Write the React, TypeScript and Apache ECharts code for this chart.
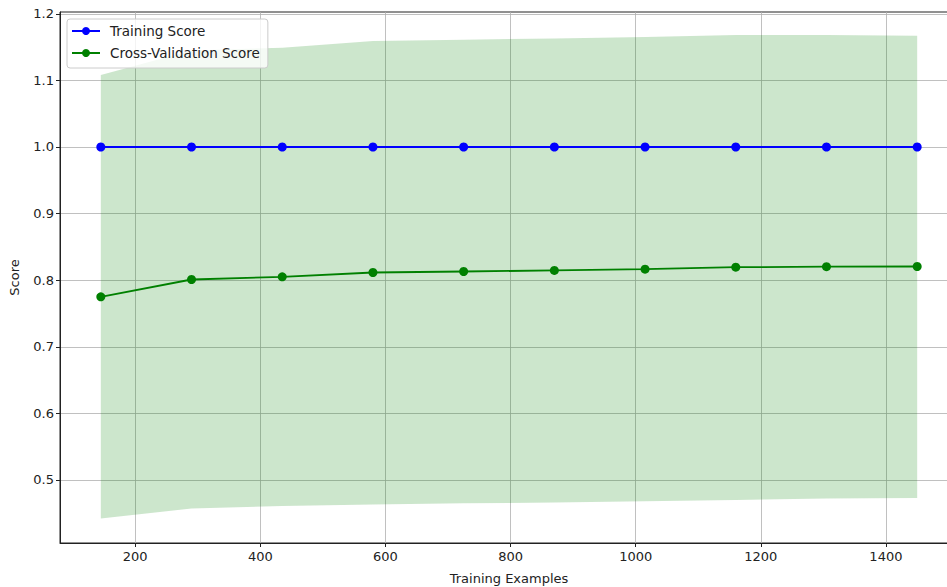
import React, { useEffect, useRef } from "react";
import * as echarts from "echarts";

const trainSizes = [145, 290, 435, 580, 725, 870, 1015, 1160, 1305, 1450];
const trainScores = [1.0, 1.0, 1.0, 1.0, 1.0, 1.0, 1.0, 1.0, 1.0, 1.0];
const cvScores = [0.775, 0.801, 0.805, 0.8115, 0.813, 0.8146, 0.8165, 0.8195, 0.8202, 0.8205];
const cvUpper = [1.108, 1.145, 1.149, 1.159, 1.161, 1.163, 1.165, 1.168, 1.168, 1.167];
const cvLower = [0.442, 0.457, 0.461, 0.463, 0.465, 0.466, 0.468, 0.470, 0.472, 0.473];
const xTicks = [200, 400, 600, 800, 1000, 1200, 1400];
const yTicks = [0.5, 0.6, 0.7, 0.8, 0.9, 1.0, 1.1, 1.2];

const FONT = "DejaVu Sans";
const TXT = "#222";

export default function App() {
  const ref = useRef<HTMLDivElement>(null);
  useEffect(() => {
    if (!ref.current) return;
    const chart = echarts.init(ref.current, undefined, { renderer: "svg" });
    const bandData = trainSizes.map((x, i) => [x, cvLower[i], cvUpper[i]]);
    chart.setOption({
      animation: false,
      textStyle: { fontFamily: FONT },
      grid: {
        left: 60,
        top: 12,
        right: -11,
        bottom: 44,
        outerBoundsMode: "none",
        containLabel: false,
        show: true,
        borderColor: "#222",
        borderWidth: 1,
        backgroundColor: "transparent",
      },
      legend: {
        left: 67,
        top: 19,
        orient: "vertical",
        itemWidth: 28,
        itemHeight: 10,
        itemGap: 8,
        padding: [5, 8, 8, 4],
        backgroundColor: "rgba(255,255,255,0.8)",
        borderColor: "#cccccc",
        borderWidth: 1,
        borderRadius: 3,
        textStyle: { fontFamily: FONT, fontSize: 13.5, color: TXT, padding: [0, 0, 0, 5] },
        data: ["Training Score", "Cross-Validation Score"],
      },
      xAxis: {
        type: "value",
        min: 79.75,
        max: 1515.25,
        splitNumber: 7,
        name: "Training Examples",
        nameLocation: "middle",
        nameGap: 29,
        nameTextStyle: { fontFamily: FONT, fontSize: 13, color: TXT },
        axisLine: { show: true, lineStyle: { color: "#222", width: 1 } },
        axisTick: { show: true, length: 4, lineStyle: { color: "#222" }, customValues: xTicks },
        axisLabel: {
          fontFamily: FONT,
          fontSize: 13,
          color: TXT,
          margin: 7,
          customValues: xTicks,
          formatter: (v: number) => String(Math.round(v)),
        },
        splitLine: { show: true, lineStyle: { color: "#b0b0b0", width: 0.8 } },
      },
      yAxis: {
        type: "value",
        min: 0.4053,
        max: 1.2027,
        splitNumber: 8,
        name: "Score",
        nameLocation: "middle",
        nameGap: 39,
        nameRotate: 90,
        nameTextStyle: { fontFamily: FONT, fontSize: 13, color: TXT },
        axisLine: { show: true, lineStyle: { color: "#222", width: 1 } },
        axisTick: { show: true, length: 4, lineStyle: { color: "#222" }, customValues: yTicks },
        axisLabel: {
          fontFamily: FONT,
          fontSize: 13,
          color: TXT,
          margin: 6,
          customValues: yTicks,
          formatter: (v: number) => v.toFixed(1),
        },
        splitLine: { show: true, lineStyle: { color: "#b0b0b0", width: 0.8 } },
      },
      series: [
        {
          type: "custom",
          name: "band",
          data: bandData,
          encode: { x: 0, y: [1, 2] },
          z: 1,
          silent: true,
          renderItem: (params: any, api: any) => {
            if (params.dataIndex !== 0) return null;
            const top = bandData.map((d) => api.coord([d[0], d[2]]));
            const bot = bandData.map((d) => api.coord([d[0], d[1]])).reverse();
            return {
              type: "polygon",
              shape: { points: top.concat(bot) },
              style: { fill: "rgba(0,128,0,0.2)", stroke: "none" },
            };
          },
        },
        {
          type: "line",
          name: "Training Score",
          data: trainSizes.map((x, i) => [x, trainScores[i]]),
          symbol: "circle",
          symbolSize: 9,
          z: 3,
          lineStyle: { color: "#0000ff", width: 1.8 },
          itemStyle: { color: "#0000ff" },
        },
        {
          type: "line",
          name: "Cross-Validation Score",
          data: trainSizes.map((x, i) => [x, cvScores[i]]),
          symbol: "circle",
          symbolSize: 9,
          z: 3,
          lineStyle: { color: "#008000", width: 1.8 },
          itemStyle: { color: "#008000" },
        },
      ],
    });
    return () => chart.dispose();
  }, []);
  return (
    <div
      ref={ref}
      style={{ position: "fixed", left: 0, top: 0, width: 947, height: 587, background: "#fff" }}
    />
  );
}
